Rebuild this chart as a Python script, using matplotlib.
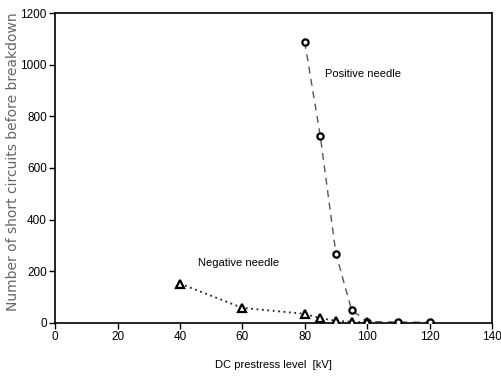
import matplotlib
matplotlib.use("Agg")
import matplotlib.pyplot as plt
from matplotlib import font_manager

names = {f.name for f in font_manager.fontManager.ttflist}
narrow = 'Liberation Sans Narrow' if 'Liberation Sans Narrow' in names else 'Liberation Sans'

# Data
pos_kv = [80, 85, 90, 95, 100, 110, 120]
pos_counts = [1088, 722, 268, 50, 5, 3, 2]
neg_kv = [40, 60, 80, 85, 90, 95, 100]
neg_counts = [152, 58, 35, 18, 8, 4, 2]
x_ticks = [0, 20, 40, 60, 80, 100, 120, 140]
y_ticks = [0, 200, 400, 600, 800, 1000, 1200]

fig = plt.figure(figsize=(5.01, 3.83), dpi=100)
ax = fig.add_axes([0.11, 0.157, 0.872, 0.809])

ax.plot(pos_kv, pos_counts, linestyle=(0, (5, 4)), color='#555555', lw=1.0,
        zorder=2)
ax.plot(pos_kv, pos_counts, linestyle='none', marker='o', ms=4.5, mfc='white',
        mec='black', mew=1.6, zorder=3)
ax.plot(neg_kv, neg_counts, linestyle=(0, (1, 2)), color='#222222', lw=1.3,
        zorder=2)
ax.plot(neg_kv, neg_counts, linestyle='none', marker='^', ms=5.5, mfc='white',
        mec='black', mew=1.6, zorder=3)

ax.text(86.5, 965, 'Positive needle', fontsize=8, family=narrow, va='center')
ax.text(45.8, 232, 'Negative needle', fontsize=8, family=narrow, va='center')

ax.set_xlim(0, 140)
ax.set_ylim(0, 1200)
ax.set_xticks(x_ticks)
ax.set_yticks(y_ticks)
ax.tick_params(direction='out', length=4, width=1, labelsize=8.5, pad=2)
for lab in ax.get_xticklabels() + ax.get_yticklabels():
    lab.set_family(narrow)
for s in ax.spines.values():
    s.set_linewidth(1.2)

ax.set_xlabel('DC prestress level  [kV]', fontsize=8, family=narrow, labelpad=12)
ax.set_ylabel('Number of short circuits before breakdown', fontsize=10,
              color='#666666')
ax.yaxis.set_label_coords(-0.08, 0.52)

fig.savefig('out.png', dpi=100)
